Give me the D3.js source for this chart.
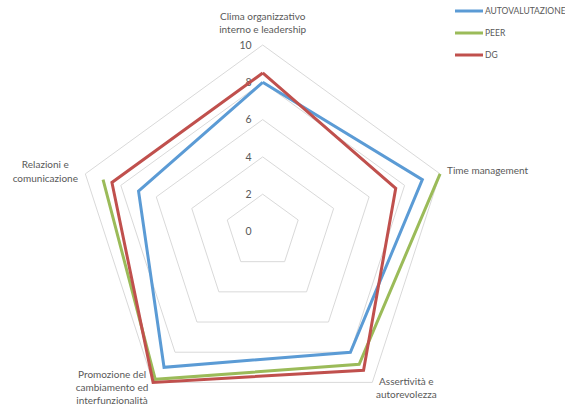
<!DOCTYPE html>
<html>
<head>
<meta charset="utf-8">
<script src="https://cdn.jsdelivr.net/npm/d3@7"></script>
<style>
  html, body { margin: 0; padding: 0; background: #fff; }
  svg { display: block; font-family: Lato, "Open Sans", sans-serif; }
</style>
</head>
<body>
<svg id="chart" width="565" height="406"></svg>
<script>
// Axes, clockwise from the top
const categories = [
  ["Clima organizzativo", "interno e leadership"],
  ["Time management"],
  ["Assertività e", "autorevolezza"],
  ["Promozione del", "cambiamento ed", "interfunzionalità"],
  ["Relazioni e", "comunicazione"]
];
const seriesNames = ["AUTOVALUTAZIONE", "PEER", "DG"];
const autovalutazione = [8, 9, 8, 9, 7];
const peer = [null, 10, 8.8, 9.8, 9];   // no value for the first axis
const dg = [8.5, 7.5, 9.2, 10, 8.5];
const tickValues = [0, 2, 4, 6, 8, 10];

const seriesValues = [autovalutazione, peer, dg];
const colors = ["#5B9BD5", "#9BBB59", "#C0504D"];

const svg = d3.select("#chart");
const cx = 262.7, cy = 231.5;
const r = d3.scaleLinear().domain([0, 10]).range([0, 186.5]);
const n = categories.length;
const angle = i => (i / n) * 2 * Math.PI;
const pt = (i, v) => [cx + r(v) * Math.sin(angle(i)), cy - r(v) * Math.cos(angle(i))];

// Grid rings
const g = svg.append("g");
g.selectAll("polygon.ring")
  .data(tickValues.filter(t => t > 0))
  .join("polygon")
  .attr("class", "ring")
  .attr("points", t => d3.range(n).map(i => pt(i, t).join(",")).join(" "))
  .attr("fill", "none")
  .attr("stroke", "#D9D9D9")
  .attr("stroke-width", 1);

// Value labels along the top axis
g.selectAll("text.tick")
  .data(tickValues)
  .join("text")
  .attr("class", "tick")
  .attr("x", cx - 11)
  .attr("y", t => cy - r(t))
  .attr("dy", "0.35em")
  .attr("text-anchor", "end")
  .attr("font-size", 10.5)
  .attr("fill", "#595959")
  .text(t => t);

// Category labels
const labelPlace = [
  { dx: 0, dy: -28.5, anchor: "middle" },
  { dx: 7, dy: -3, anchor: "start" },
  { dx: 34, dy: -1, anchor: "middle" },
  { dx: -41, dy: -8, anchor: "middle" },
  { dx: -40, dy: -9, anchor: "middle" }
];
const lineH = 13.2;
categories.forEach((lines, i) => {
  const [x, y] = pt(i, 10);
  const p = labelPlace[i];
  const t = svg.append("text")
    .attr("font-size", 10)
    .attr("fill", "#595959")
    .attr("text-anchor", p.anchor);
  lines.forEach((s, k) => {
    t.append("tspan")
      .attr("x", x + p.dx)
      .attr("y", y + p.dy + k * lineH)
      .attr("dy", "0.35em")
      .text(s);
  });
});

// Series outlines, closed back to the first axis
const line = d3.line()
  .defined(d => d[1] != null)
  .x(d => pt(d[0], d[1])[0])
  .y(d => pt(d[0], d[1])[1]);

seriesValues.forEach((vals, s) => {
  const pts = vals.map((v, i) => [i, v]);
  pts.push([0, vals[0]]);
  svg.append("path")
    .attr("d", line(pts))
    .attr("fill", "none")
    .attr("stroke", colors[s])
    .attr("stroke-width", 3)
    .attr("stroke-linejoin", "miter");
});

// Legend
const legend = svg.append("g");
seriesNames.forEach((name, s) => {
  const y = 11 + s * 22;
  legend.append("line")
    .attr("x1", 455).attr("x2", 483)
    .attr("y1", y).attr("y2", y)
    .attr("stroke", colors[s])
    .attr("stroke-width", 3);
  legend.append("text")
    .attr("x", 485)
    .attr("y", y)
    .attr("dy", "0.35em")
    .attr("font-size", 8.5)
    .attr("fill", "#595959")
    .text(name);
});
</script>
</body>
</html>
